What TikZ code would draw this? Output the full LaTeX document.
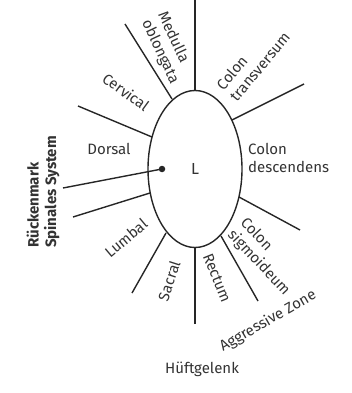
\documentclass[tikz,border=0pt]{standalone}
\usepackage{fontspec}
\setmainfont{Fira Sans}
\usetikzlibrary{shapes.geometric}
\definecolor{ink}{HTML}{262626}
\definecolor{txt}{HTML}{333333}
\begin{document}
\begin{tikzpicture}[x=1pt,y=-1pt,
  ray/.style={draw=ink,line width=1.4pt},
  lbl/.style={text=txt,font=\fontsize{15}{17.5}\selectfont,inner sep=0pt,align=left},
  blbl/.style={text=txt,font=\fontsize{15}{17.5}\selectfont\bfseries,inner sep=0pt,align=left}]
\useasboundingbox (0,0) rectangle (351,393);
\node[ellipse,draw=ink,line width=1.4pt,minimum width=94pt,minimum height=157pt,inner sep=0pt,text=txt,font=\fontsize{16}{18}\selectfont] (E) at (195,169) {L};
\node[circle,fill=ink,inner sep=0pt,minimum size=6.5pt] (dot) at (162,169) {};
% ellipse border points
\coordinate (i1) at (195,91);
\coordinate (i2) at (172,99);
\coordinate (i3) at (152,137);
\coordinate (i5) at (150,193);
\coordinate (i6) at (166,233);
\coordinate (i7) at (195,247);
\coordinate (i8) at (221,236);
\coordinate (i9) at (239,197);
\coordinate (i10) at (232,120);
% outer ends
\coordinate (o1) at (195,0);
\coordinate (o2) at (125,24);
\coordinate (o3) at (78,106);
\coordinate (o4) at (63,188);
\coordinate (o5) at (73,217);
\coordinate (o6) at (132,293);
\coordinate (o7) at (195,324);
\coordinate (o8) at (258,301);
\coordinate (o9) at (300,230);
\coordinate (o10) at (304,84);
\draw[ray] (o1) -- (i1);
\draw[ray] (o2) -- (i2);
\draw[ray] (o3) -- (i3);
\draw[ray] (o4) -- (dot.center);
\draw[ray] (o5) -- (i5);
\draw[ray] (o6) -- (i6);
\draw[ray] (o7) -- (i7);
\draw[ray] (o8) -- (i8);
\draw[ray] (o9) -- (i9);
\draw[ray] (o10) -- (i10);
% labels
\node[lbl,rotate=-65] (medulla) at (168,48) {Medulla\\oblongata};
\node[lbl,rotate=-36] (cervical) at (126,92) {Cervical};
\node[lbl,rotate=50] (ctrans) at (253,61) {Colon\\transversum};
\node[lbl] (dorsal) at (109,149) {Dorsal};
\node[lbl,anchor=west] (cdesc) at (248,158) {Colon\\descendens};
\node[blbl,rotate=90,anchor=west] (rm) at (43,248) {Rückenmark\\Spinales System};
\node[lbl,rotate=40] (lumbal) at (126,238) {Lumbal};
\node[lbl,rotate=72] (sacral) at (169,281) {Sacral};
\node[lbl,rotate=-68] (rectum) at (217,278) {Rectum};
\node[lbl,rotate=-47] (csig) at (265,257) {Colon\\sigmoideum};
\node[lbl,rotate=30] (aggr) at (268,321) {Aggressive Zone};
\node[lbl] (hueft) at (202,369) {Hüftgelenk};
\end{tikzpicture}
\end{document}
